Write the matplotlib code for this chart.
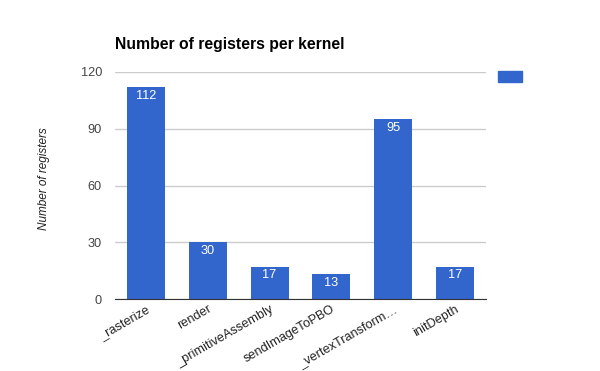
import matplotlib
matplotlib.use("Agg")
import matplotlib.pyplot as plt
from matplotlib.patches import Rectangle

kernels = ["_rasterize", "render", "_primitiveAssembly", "sendImageToPBO", "_vertexTransform…", "initDepth"]
registers = [112, 30, 17, 13, 95, 17]
yticks = [0, 30, 60, 90, 120]

plt.rcParams['font.family'] = ['Liberation Sans', 'DejaVu Sans']

fig = plt.figure(figsize=(6, 3.71), dpi=100)
ax = fig.add_axes([115/600, 1-299/371, (486-115)/600, (299-72)/371])

x = list(range(len(kernels)))
bars = ax.bar(x, registers, width=0.615, color='#3366cc', zorder=3)
for xi, v in zip(x, registers):
    ax.text(xi, v - 1.3, str(v), ha='center', va='top', color='white', fontsize=9.2, zorder=4)

ax.set_xlim(-0.5, len(kernels) - 0.5)
ax.set_ylim(0, 120)
ax.set_yticks(yticks)
ax.set_yticklabels([str(t) for t in yticks], color='#444444', fontsize=9.2)
ax.yaxis.grid(True, color='#cccccc', linewidth=1, zorder=0)
ax.tick_params(axis='both', length=0)
ax.tick_params(axis='y', pad=9.4)
ax.tick_params(axis='x', pad=3)
ax.set_xticks(x)
ax.set_xticklabels(kernels, rotation=30, ha='right', rotation_mode='anchor', color='#222222', fontsize=9.2)
for s in ['top', 'right', 'left']:
    ax.spines[s].set_visible(False)
ax.spines['bottom'].set_color('#333333')
ax.spines['bottom'].set_zorder(5)

ax.set_ylabel("Number of registers", style='italic', color='#222222', fontsize=8.5)
ax.yaxis.set_label_coords((50 - 115) / 371, (299 - 179) / 227)
fig.text(115/600, 1-45/371, "Number of registers per kernel", fontsize=11.3, fontweight='bold', color='black', va='center')

fig.patches.append(Rectangle((498/600, 1-82/371), 24/600, 11/371, transform=fig.transFigure, color='#3366cc', figure=fig))

fig.savefig("out.png", dpi=100, facecolor='white')
